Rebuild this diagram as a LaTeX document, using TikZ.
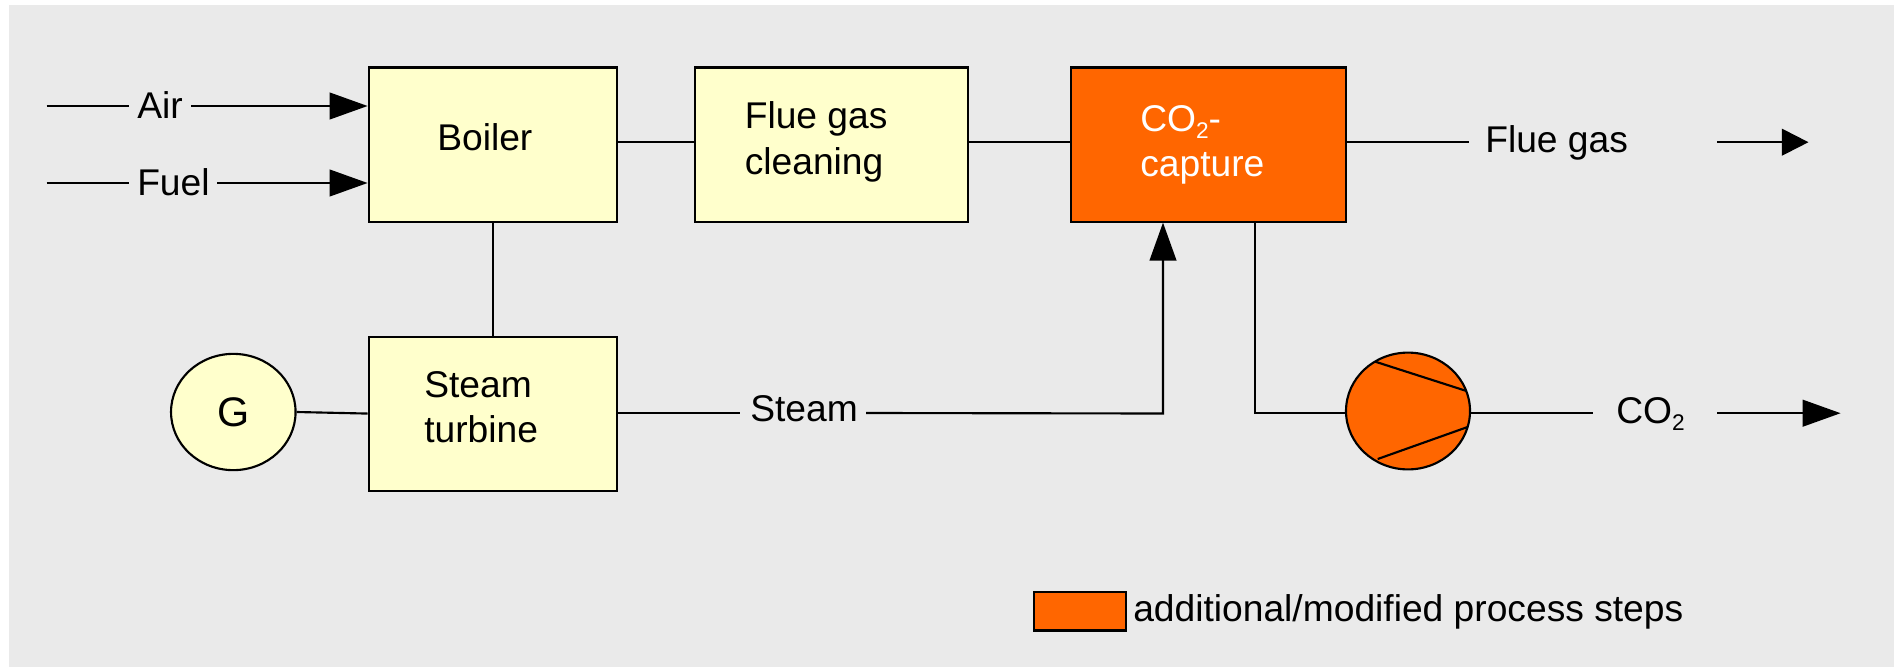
\documentclass[tikz,border=0pt]{standalone}
\usepackage{fontspec}
\setmainfont{Liberation Sans}
\usetikzlibrary{arrows.meta,shapes.geometric}
\definecolor{bgc}{HTML}{EAEAEA}
\definecolor{boxy}{HTML}{FFFFCC}
\definecolor{orng}{HTML}{FF6600}
\newcommand{\subtwo}{\raisebox{-5.6pt}{\fontsize{17}{17}\selectfont 2}}
\tikzset{
 x=0.75pt,y=-0.75pt,
 lw/.style={line width=1.6pt,draw=black},
 boxn/.style={lw,rectangle,inner sep=0,anchor=north west},
 txt/.style={inner sep=0,anchor=base west,font=\fontsize{27.9}{27.9}\selectfont},
 conn/.style={line width=1.6pt},
 arr/.style={conn,-{Triangle[length=28.5pt,width=20pt,sharp]}},
 arrs/.style={conn,-{Triangle[length=20pt,width=20pt]}},
}
\begin{document}
\begin{tikzpicture}
\useasboundingbox (0,0) rectangle (1894,667);
\fill[white] (0,0) rectangle (1894,667);
\fill[bgc] (9,5) rectangle (1894,667);
\node[boxn,fill=boxy,minimum width=186pt,minimum height=115.5pt] (boiler) at (367.6,66.5) {};
\node[boxn,fill=boxy,minimum width=186pt,minimum height=115.5pt] (turbine) at (367.6,335.5) {};
\node[boxn,fill=boxy,minimum width=205pt,minimum height=115.5pt] (clean) at (694,66.5) {};
\node[boxn,fill=orng,minimum width=206pt,minimum height=115.5pt] (capture) at (1070,66.5) {};
\node[lw,ellipse,fill=boxy,minimum width=93.4pt,minimum height=87.2pt,inner sep=0] (gen) at (233.3,412) {};
\node[lw,ellipse,fill=orng,minimum width=93pt,minimum height=87.6pt,inner sep=0] (comp) at (1408,411) {};
\node[boxn,fill=orng,minimum width=69pt,minimum height=29.2pt] (legend) at (1033,590.5) {};
\node[txt] (tair) at (137,118) {Air};
\node[txt] (tfuel) at (137,195.2) {Fuel};
\node[txt] (tboiler) at (437,150) {Boiler};
\node[txt] (tsteam1) at (424,397) {Steam};
\node[txt] (tsteam2) at (424,442) {turbine};
\node[txt,anchor=base,font=\fontsize{31}{31}\selectfont] (tg) at (233.3,426) {G};
\node[txt] (tclean1) at (744.5,128.7) {Flue gas};
\node[txt] (tclean2) at (744.5,174) {cleaning};
\node[txt,text=white] (tcap1) at (1140,131.5) {CO\subtwo-};
\node[txt,text=white] (tcap2) at (1140,176) {capture};
\node[txt] (tflue) at (1485,152) {Flue gas};
\node[txt] (tsteam) at (750,421.5) {Steam};
\node[txt] (tco) at (1616,423) {CO\subtwo};
\node[txt] (tleg) at (1133,621) {additional/modified process steps};
\coordinate (a0) at (46.5,106); \coordinate (a1) at (129,106); \coordinate (a2) at (191,106);
\coordinate (f0) at (46.5,183); \coordinate (f1) at (129,183); \coordinate (f2) at (217,183);
\draw[conn] (a0) -- (a1);
\draw[arr] (a2) -- (a2 -| boiler.west);
\draw[conn] (f0) -- (f1);
\draw[arr] (f2) -- (f2 -| boiler.west);
\draw[conn] (boiler.south) -- (turbine.north);
\draw[conn] (gen.east) -- (turbine.west);
\coordinate (g) at (0,142.2);
\draw[conn] (boiler.east |- g) -- (clean.west |- g);
\draw[conn] (clean.east |- g) -- (capture.west |- g);
\draw[conn] (capture.east |- g) -- (1469,142.2);
\coordinate (fa0) at (1717,142.2); \coordinate (fa1) at (1808.5,142.2);
\draw[arrs] (fa0) -- (fa1);
\coordinate (s1) at (740,413); \coordinate (s2) at (866,413); \coordinate (s3) at (1163,413.5);
\draw[conn] (turbine.east |- s1) -- (s1);
\draw[arr] (s2) -- (s3) -- (s3 |- capture.south);
\coordinate (d1) at (1255,413);
\draw[conn] (d1 |- capture.south) -- (d1) -- (comp.west |- d1);
\coordinate (c1) at (1593,413); \coordinate (ca0) at (1717,413.2); \coordinate (ca1) at (1840.6,413.2);
\draw[conn] (comp.east |- c1) -- (c1);
\draw[arr] (ca0) -- (ca1);
\coordinate (l1) at (1375,361.6); \coordinate (l2) at (1466.5,391);
\coordinate (l3) at (1377.7,459); \coordinate (l4) at (1467.6,427);
\draw[conn] (l1) -- (l2);
\draw[conn] (l3) -- (l4);
\end{tikzpicture}
\end{document}
